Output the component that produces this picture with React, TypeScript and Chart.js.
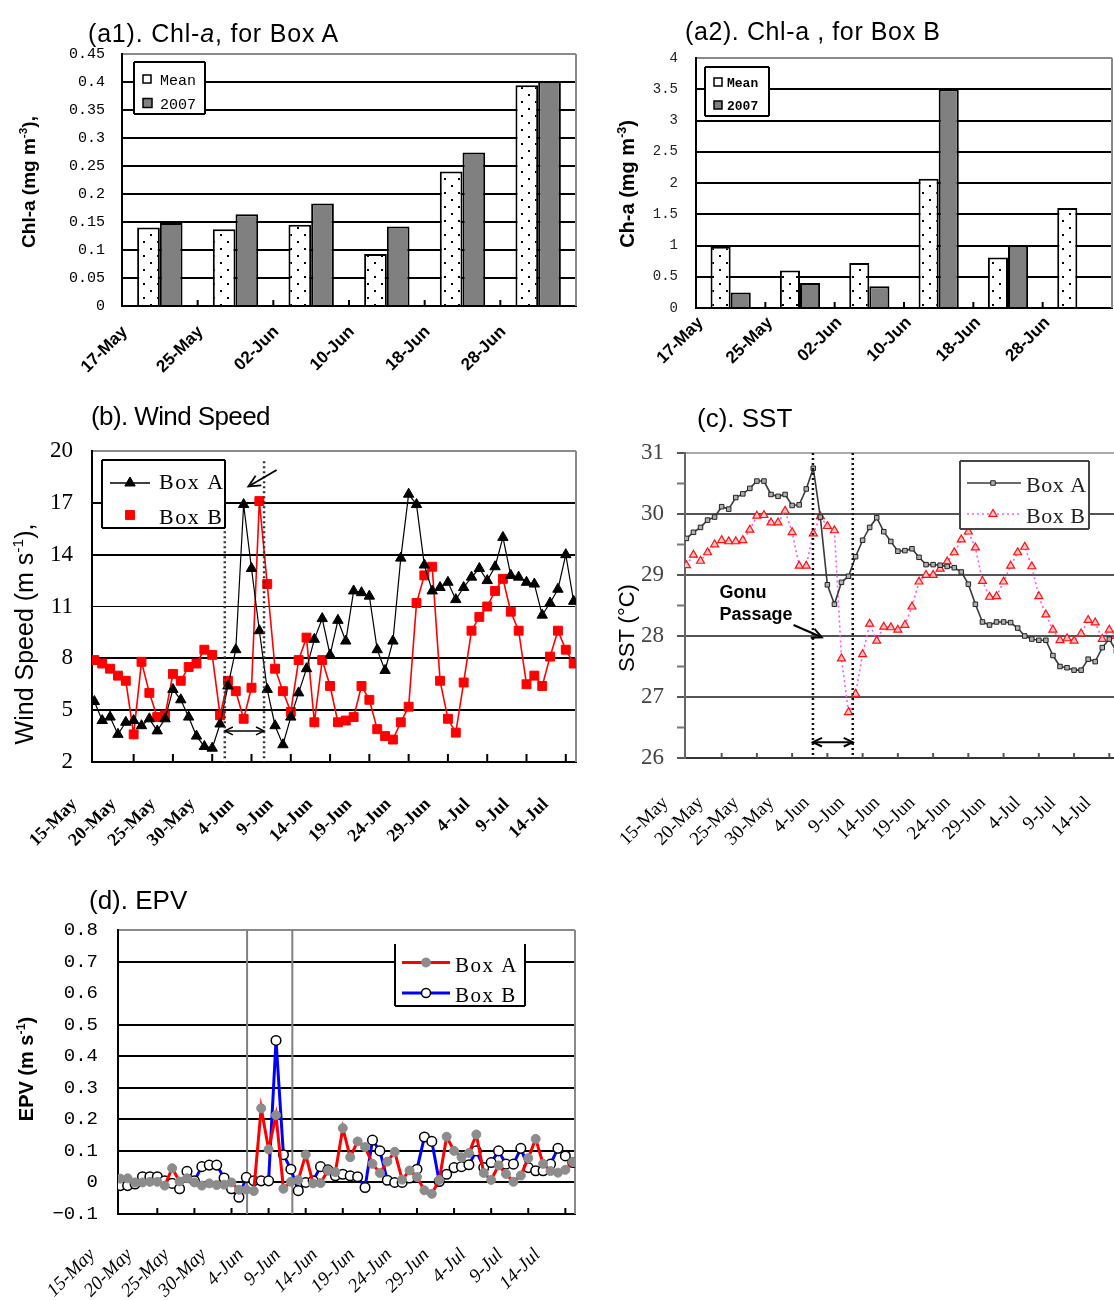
import React, { useEffect, useRef } from 'react';
import { Chart, registerables } from 'chart.js';

Chart.register(...registerables);

const SANS = "'Liberation Sans', Arial, sans-serif";
const SERIF = "'Liberation Serif', 'Times New Roman', serif";
const MONO = "'Liberation Mono', 'DejaVu Sans Mono', monospace";

// ---------------- (a1)/(a2) Chl-a ----------------
const chlCategories = ['17-May', '25-May', '02-Jun', '10-Jun', '18-Jun', '28-Jun'];
const chlBoxAMean = [0.14, 0.137, 0.145, 0.093, 0.24, 0.394];
const chlBoxA2007 = [0.148, 0.164, 0.183, 0.142, 0.274, 0.401];
const chlBoxBMean = [0.98, 0.6, 0.72, 2.07, 0.81, 1.6];
const chlBoxB2007 = [0.25, 0.4, 0.35, 3.5, 1.0, null];

// ---------------- shared date axis (day 0 = 15-May) ----------------
const dateTickDays = [0, 5, 10, 15, 20, 25, 30, 35, 40, 45, 50, 55, 60];
const dateTickLabels = ['15-May', '20-May', '25-May', '30-May', '4-Jun', '9-Jun', '14-Jun', '19-Jun', '24-Jun', '29-Jun', '4-Jul', '9-Jul', '14-Jul'];

// ---------------- (b) Wind speed ----------------
const windBoxA = [5.5, 4.4, 4.6, 3.6, 4.3, 4.4, 4.1, 4.5, 3.8, 4.5, 6.2, 5.6, 4.6, 3.5, 2.9, 2.8, 4.2, 6.4, 8.5, 16.9, 13.2, 9.6, 6.2, 4.1, 3.0, 4.6, 6.0, 7.4, 9.1, 10.3, 8.2, 10.2, 9.0, 11.9, 11.8, 11.6, 8.5, 7.3, 9.0, 13.8, 17.5, 16.9, 13.4, 11.9, 12.1, 12.4, 11.4, 12.1, 12.7, 13.2, 12.5, 13.3, 15.0, 12.8, 12.7, 12.4, 12.3, 10.5, 11.2, 12.0, 14.0, 11.3];
const windBoxB = [7.9, 7.7, 7.4, 7.0, 6.7, 3.6, 7.8, 6.0, 4.6, 4.7, 7.1, 6.7, 7.5, 7.7, 8.5, 8.2, 4.7, 6.7, 6.1, 4.5, 6.3, 17.1, 12.3, 7.4, 6.1, 4.9, 7.9, 9.2, 4.3, 7.9, 6.4, 4.3, 4.4, 4.6, 6.4, 5.6, 3.9, 3.5, 3.3, 4.3, 5.2, 11.2, 12.8, 13.3, 6.7, 4.5, 3.7, 6.6, 9.6, 10.4, 11.0, 11.9, 12.6, 10.7, 9.6, 6.5, 7.0, 6.4, 8.1, 9.6, 8.5, 7.7];
const windGonuDays = [16.6, 21.6];

// ---------------- (c) SST ----------------
const sstBoxA = [29.6, 29.7, 29.78, 29.9, 29.95, 30.12, 30.08, 30.27, 30.33, 30.42, 30.54, 30.54, 30.32, 30.29, 30.32, 30.14, 30.15, 30.41, 30.75, 29.95, 28.84, 28.52, 28.88, 28.98, 29.3, 29.57, 29.78, 29.94, 29.71, 29.55, 29.39, 29.4, 29.43, 29.29, 29.17, 29.17, 29.16, 29.14, 29.12, 29.05, 28.85, 28.52, 28.23, 28.18, 28.23, 28.23, 28.22, 28.13, 28.0, 27.95, 27.93, 27.93, 27.68, 27.5, 27.48, 27.44, 27.44, 27.62, 27.58, 27.81, 27.95, 27.75];
const sstBoxB = [29.16, 29.33, 29.23, 29.37, 29.5, 29.57, 29.55, 29.55, 29.57, 29.74, 29.97, 29.98, 29.86, 29.86, 30.05, 29.7, 29.15, 29.15, 29.68, 29.96, 29.8, 29.73, 27.63, 26.75, 27.05, 27.7, 28.2, 27.92, 28.15, 28.14, 28.1, 28.18, 28.48, 28.89, 29.0, 29.0, 29.1, 29.22, 29.37, 29.58, 29.71, 29.45, 28.9, 28.64, 28.65, 28.89, 29.15, 29.37, 29.46, 29.14, 28.65, 28.35, 28.1, 27.93, 27.96, 27.92, 28.04, 28.26, 28.22, 27.95, 28.1, 28.0];
const sstGonuDays = [17.95, 23.6];
const sstMinorTicks = [26.5, 27.5, 28.5, 29.5, 30.5];

// ---------------- (d) EPV ----------------
const epvBoxA = [0.012, 0.013, 0.0, 0.0, 0.002, 0.002, -0.01, 0.045, 0.003, 0.013, 0.0, -0.01, -0.003, -0.008, -0.007, 0.0, -0.023, -0.023, -0.027, 0.235, 0.105, 0.213, -0.02, 0.002, 0.008, 0.088, -0.003, -0.002, 0.038, 0.033, 0.172, 0.08, 0.13, 0.112, 0.059, 0.03, 0.066, 0.097, 0.009, 0.038, 0.017, -0.025, -0.036, 0.008, 0.145, 0.1, 0.08, 0.093, 0.152, 0.03, 0.008, 0.054, 0.027, 0.002, 0.022, 0.077, 0.138, 0.059, 0.036, 0.031, 0.04, 0.065];
const epvBoxB = [-0.01, -0.01, -0.005, 0.018, 0.018, 0.018, 0.005, -0.003, -0.02, 0.035, 0.005, 0.05, 0.055, 0.055, 0.014, -0.02, -0.047, 0.016, 0.005, 0.005, 0.005, 0.45, 0.088, 0.042, -0.026, 0.0, 0.005, 0.05, 0.04, 0.021, 0.026, 0.021, 0.018, -0.016, 0.134, 0.1, 0.007, 0.0, 0.0, 0.014, 0.042, 0.144, 0.13, 0.003, 0.026, 0.047, 0.05, 0.056, 0.1, 0.047, 0.063, 0.1, 0.058, 0.058, 0.108, 0.047, 0.037, 0.037, 0.058, 0.108, 0.084, 0.063];
const epvGonuDays = [17.1, 23.2];

// ---------------- helpers ----------------
const toPoints = (arr: number[]) => arr.map((v, i) => ({ x: i, y: v }));
const dayLabel = (v: number) => {
  const i = dateTickDays.indexOf(Math.round(v));
  return i >= 0 ? dateTickLabels[i] : '';
};
const near = (a: number, b: number) => Math.abs(a - b) < 1e-6;

function drawMarker(ctx: any, style: string, x: number, y: number, r: number, fill?: string, stroke?: string, lw?: number) {
  ctx.save();
  ctx.setLineDash([]);
  ctx.beginPath();
  if (style === 'triangle') {
    let rad = 0;
    for (let k = 0; k < 3; k++) {
      const px = x + Math.sin(rad) * r;
      const py = y - Math.cos(rad) * r;
      if (k === 0) ctx.moveTo(px, py); else ctx.lineTo(px, py);
      rad += (2 * Math.PI) / 3;
    }
    ctx.closePath();
  } else if (style === 'rect') {
    const s = r * Math.SQRT1_2;
    ctx.rect(x - s, y - s, 2 * s, 2 * s);
  } else {
    ctx.arc(x, y, r, 0, Math.PI * 2);
  }
  if (fill) { ctx.fillStyle = fill; ctx.fill(); }
  if (stroke && lw) { ctx.strokeStyle = stroke; ctx.lineWidth = lw; ctx.stroke(); }
  ctx.restore();
}

function drawArrowHead(ctx: any, x0: number, y0: number, x1: number, y1: number, len: number) {
  const ang = Math.atan2(y1 - y0, x1 - x0);
  ctx.beginPath();
  ctx.moveTo(x1 - len * Math.cos(ang - 0.45), y1 - len * Math.sin(ang - 0.45));
  ctx.lineTo(x1, y1);
  ctx.lineTo(x1 - len * Math.cos(ang + 0.45), y1 - len * Math.sin(ang + 0.45));
  ctx.stroke();
}

// right frame line of plot area
function framePlugin(color: string, width: number) {
  return {
    id: 'frameRight',
    beforeDatasetsDraw(chart: any) {
      const { ctx, chartArea: a } = chart;
      ctx.save();
      ctx.strokeStyle = color;
      ctx.lineWidth = width;
      ctx.beginPath();
      ctx.moveTo(a.right, a.top);
      ctx.lineTo(a.right, a.bottom);
      ctx.stroke();
      ctx.restore();
    },
  };
}

// small tick marks at the axes (positive len points into the plot)
function innerTicksPlugin(items: any[]) {
  return {
    id: 'innerTicks',
    beforeDatasetsDraw(chart: any) {
      const { ctx, chartArea: a, scales } = chart;
      ctx.save();
      for (const it of items) {
        ctx.strokeStyle = it.color;
        ctx.lineWidth = it.width;
        ctx.beginPath();
        for (const v of it.values) {
          if (it.axis === 'x') {
            const px = scales.x.getPixelForValue(v);
            ctx.moveTo(px, a.bottom);
            ctx.lineTo(px, a.bottom - it.len);
          } else {
            const py = scales.y.getPixelForValue(v);
            ctx.moveTo(a.left, py);
            ctx.lineTo(a.left + it.len, py);
          }
        }
        ctx.stroke();
      }
      ctx.restore();
    },
  };
}

function annotationPlugin(items: any[]) {
  const draw = (chart: any, layer: string) => {
    const { ctx, chartArea: a, scales } = chart;
    const X = (v: number) => scales.x.getPixelForValue(v);
    const Y = (v: number) => scales.y.getPixelForValue(v);
    ctx.save();
    for (const it of items) {
      if ((it.layer || 'after') !== layer) continue;
      ctx.setLineDash(it.dash || []);
      ctx.strokeStyle = it.color || '#000';
      ctx.fillStyle = it.color || '#000';
      ctx.lineWidth = it.width || 1;
      if (it.type === 'vline') {
        const px = X(it.x);
        const top = it.yTop != null ? Y(it.yTop) : a.top;
        ctx.beginPath();
        ctx.moveTo(px, top);
        ctx.lineTo(px, a.bottom);
        ctx.stroke();
      } else if (it.type === 'arrow') {
        const x0 = X(it.x0), y0 = Y(it.y0), x1 = X(it.x1), y1 = Y(it.y1);
        ctx.beginPath();
        ctx.moveTo(x0, y0);
        ctx.lineTo(x1, y1);
        ctx.stroke();
        ctx.setLineDash([]);
        drawArrowHead(ctx, x0, y0, x1, y1, it.head || 8);
        if (it.both) drawArrowHead(ctx, x1, y1, x0, y0, it.head || 8);
      } else if (it.type === 'text') {
        ctx.font = it.font;
        ctx.textAlign = 'left';
        ctx.textBaseline = 'alphabetic';
        const x0 = X(it.x), y0 = Y(it.y);
        it.lines.forEach((ln: string, i: number) => ctx.fillText(ln, x0, y0 + i * it.lineGap));
      }
    }
    ctx.restore();
  };
  return {
    id: 'annotations',
    beforeDatasetsDraw(chart: any) { draw(chart, 'before'); },
    afterDatasetsDraw(chart: any) { draw(chart, 'after'); },
  };
}

function boxLegendPlugin(cfg: any) {
  return {
    id: 'boxLegend',
    afterDatasetsDraw(chart: any) {
      const { ctx, chartArea: a } = chart;
      const L = a.left, T = a.top;
      const b = cfg.box;
      const x0 = L + b.x, y0 = T + b.y, x1 = x0 + b.w, y1 = y0 + b.h;
      ctx.save();
      ctx.fillStyle = '#fff';
      ctx.fillRect(x0, y0, b.w, b.h);
      ctx.strokeStyle = b.color;
      ctx.lineWidth = b.width;
      const sides = b.sides || 'tlbr';
      ctx.beginPath();
      if (sides.includes('t')) { ctx.moveTo(x0, y0); ctx.lineTo(x1, y0); }
      if (sides.includes('r')) { ctx.moveTo(x1, y0); ctx.lineTo(x1, y1); }
      if (sides.includes('b')) { ctx.moveTo(x1, y1); ctx.lineTo(x0, y1); }
      if (sides.includes('l')) { ctx.moveTo(x0, y1); ctx.lineTo(x0, y0); }
      ctx.stroke();
      for (const it of cfg.items) {
        const cy = T + it.y;
        if (it.line) {
          ctx.save();
          ctx.strokeStyle = it.line.color;
          ctx.lineWidth = it.line.width;
          ctx.setLineDash(it.line.dash || []);
          ctx.beginPath();
          ctx.moveTo(L + it.line.x0, cy);
          ctx.lineTo(L + it.line.x1, cy);
          ctx.stroke();
          ctx.restore();
        }
        if (it.marker) {
          const m = it.marker;
          drawMarker(ctx, m.style, L + m.x, cy, m.r, m.fill, m.stroke, m.lw);
        }
        if (it.swatch) {
          const s = it.swatch.size;
          ctx.fillStyle = it.swatch.fill;
          ctx.fillRect(L + it.swatch.x, cy - s / 2, s, s);
          ctx.strokeStyle = '#000';
          ctx.lineWidth = 1.5;
          ctx.strokeRect(L + it.swatch.x, cy - s / 2, s, s);
        }
        ctx.font = cfg.font;
        ctx.fillStyle = cfg.color || '#000';
        ctx.textAlign = 'left';
        ctx.textBaseline = 'alphabetic';
        if ('letterSpacing' in ctx) ctx.letterSpacing = cfg.letterSpacing || '0px';
        ctx.fillText(it.text, L + cfg.textX, T + it.baseline);
        if ('letterSpacing' in ctx) ctx.letterSpacing = '0px';
      }
      ctx.restore();
    },
  };
}

function makeDots() {
  const c = document.createElement('canvas');
  c.width = 14;
  c.height = 14;
  const g = c.getContext('2d') as CanvasRenderingContext2D;
  g.fillStyle = '#fff';
  g.fillRect(0, 0, 14, 14);
  g.fillStyle = '#000';
  g.fillRect(3, 3, 2, 2);
  g.fillRect(10, 10, 2, 2);
  return g.createPattern(c, 'repeat');
}

const baseOptions = () => ({
  responsive: false,
  maintainAspectRatio: false,
  animation: false,
  events: [],
  plugins: { legend: { display: false }, tooltip: { enabled: false }, title: { display: false } },
});

const fixX = (h: number) => (s: any) => { s.height = h; s.paddingLeft = 0; s.paddingRight = 0; };
const fixY = (w: number) => (s: any) => { s.width = w; s.paddingTop = 0; s.paddingBottom = 0; };

// ---------------- chart builders ----------------
function buildChl(which: 'A' | 'B') {
  const dots = makeDots();
  const isA = which === 'A';
  const mean = isA ? chlBoxAMean : chlBoxBMean;
  const y07 = isA ? chlBoxA2007 : chlBoxB2007;
  const ymax = isA ? 0.45 : 4;
  const step = isA ? 0.05 : 0.5;
  const catPct = isA ? 0.6 : 0.58;
  return {
    type: 'bar',
    data: {
      labels: chlCategories,
      datasets: [
        { label: 'Mean', data: mean, backgroundColor: dots, borderColor: '#000', borderWidth: 2, categoryPercentage: catPct, barPercentage: 1 },
        { label: '2007', data: y07, backgroundColor: '#808080', borderColor: '#000', borderWidth: 2, categoryPercentage: catPct, barPercentage: 1 },
      ],
    },
    options: {
      ...baseOptions(),
      layout: { padding: isA ? { left: 0, top: 54, right: 14, bottom: 0 } : { left: 0, top: 58, right: 2, bottom: 0 } },
      scales: {
        x: {
          grid: { display: false, drawTicks: false },
          border: { display: true, color: '#000', width: 2 },
          ticks: {
            autoSkip: false, maxRotation: 45, minRotation: 45,
            labelOffset: isA ? -35 : -30, padding: isA ? 16 : 5,
            color: '#000', font: { family: SANS, size: 17, weight: 'bold' },
          },
          afterFit: fixX(isA ? 94 : 92),
        },
        y: {
          min: 0, max: ymax,
          ticks: {
            stepSize: step, padding: isA ? 17 : 18, color: isA ? '#000' : '#222',
            font: { family: MONO, size: isA ? 15 : 14 },
            callback: (v: number) => String(Math.round(v * 100) / 100),
          },
          grid: {
            drawTicks: false, lineWidth: 2,
            color: (c: any) => (c.tick && near(c.tick.value, ymax) ? '#8a8a8a' : '#000'),
          },
          border: { display: true, color: '#000', width: 2 },
          afterFit: fixY(isA ? 122 : 106),
        },
      },
    },
    plugins: [
      framePlugin('#8a8a8a', 2),
      innerTicksPlugin([{ axis: 'x', values: [0.5, 1.5, 2.5, 3.5, 4.5], len: 6, color: '#000', width: 2 }]),
      boxLegendPlugin(isA ? {
        box: { x: 12, y: 8, w: 71, h: 52, color: '#000', width: 2 },
        font: `15px ${MONO}`, textX: 38,
        items: [
          { y: 25, baseline: 31, text: 'Mean', swatch: { x: 21, size: 8, fill: '#fff' } },
          { y: 49, baseline: 55, text: '2007', swatch: { x: 21, size: 9, fill: '#808080' } },
        ],
      } : {
        box: { x: 9, y: 9, w: 64, h: 49, color: '#000', width: 2 },
        font: `bold 13px ${MONO}`, textX: 31,
        items: [
          { y: 24, baseline: 29, text: 'Mean', swatch: { x: 18, size: 8, fill: '#fff' } },
          { y: 47, baseline: 52, text: '2007', swatch: { x: 18, size: 8, fill: '#808080' } },
        ],
      }),
    ],
  };
}

function dateXAxis(min: number, max: number, opts: any) {
  return {
    type: 'linear', min, max,
    afterBuildTicks: (s: any) => { s.ticks = dateTickDays.map((v) => ({ value: v })); },
    grid: { display: false, drawTicks: false },
    border: { display: true, color: opts.borderColor || '#000', width: 2 },
    ticks: {
      autoSkip: false, maxRotation: opts.rotation || 45, minRotation: opts.rotation || 45,
      padding: opts.padding, labelOffset: opts.labelOffset, color: '#000',
      font: opts.font, callback: (v: number) => dayLabel(v),
    },
    afterFit: fixX(opts.height),
  };
}

function buildWind() {
  return {
    type: 'line',
    data: {
      datasets: [
        { label: 'Box A', data: toPoints(windBoxA), borderColor: '#000', borderWidth: 1.2, tension: 0, pointStyle: 'triangle', pointRadius: 6, pointBackgroundColor: '#000', pointBorderColor: '#000', pointBorderWidth: 1 },
        { label: 'Box B', data: toPoints(windBoxB), borderColor: '#ff0000', borderWidth: 1.6, tension: 0, pointStyle: 'rect', pointRadius: 6.3, pointBackgroundColor: '#ff0000', pointBorderColor: '#ff0000', pointBorderWidth: 1 },
      ],
    },
    options: {
      ...baseOptions(),
      layout: { padding: { left: 0, top: 51, right: 14, bottom: 0 } },
      scales: {
        x: dateXAxis(-0.3, 61.3, { padding: 32, labelOffset: -20, height: 108, font: { family: SERIF, size: 18, weight: 'bold' } }),
        y: {
          min: 2, max: 20,
          ticks: { stepSize: 3, padding: 19, color: '#000', font: { family: SERIF, size: 23 } },
          grid: {
            drawTicks: false,
            lineWidth: (c: any) => (c.tick && near(c.tick.value, 11) ? 1 : 2),
            color: (c: any) => (c.tick && near(c.tick.value, 20) ? '#8a8a8a' : '#000'),
          },
          border: { display: true, color: '#000', width: 2 },
          afterFit: fixY(92),
        },
      },
    },
    plugins: [
      framePlugin('#8a8a8a', 2),
      innerTicksPlugin([{ axis: 'x', values: dateTickDays.slice(1), len: 8, color: '#000', width: 2 }]),
      annotationPlugin([
        { type: 'vline', x: windGonuDays[0], yTop: 19.4, color: '#333', width: 2.5, dash: [2, 3] },
        { type: 'vline', x: windGonuDays[1], yTop: 19.4, color: '#333', width: 2.5, dash: [2, 3] },
        { type: 'arrow', x0: windGonuDays[0], y0: 3.8, x1: windGonuDays[1], y1: 3.8, both: true, head: 9, color: '#000', width: 1.5 },
        { type: 'arrow', x0: 23.2, y0: 18.9, x1: 19.6, y1: 17.95, head: 13, color: '#000', width: 1.8 },
      ]),
      boxLegendPlugin({
        box: { x: 10, y: 9, w: 123, h: 68, color: '#000', width: 2 },
        font: `22px ${SERIF}`, textX: 67, letterSpacing: '1.5px',
        items: [
          { y: 32, baseline: 38, text: 'Box A', line: { x0: 18, x1: 58, color: '#000', width: 1.5 }, marker: { style: 'triangle', x: 38, r: 6, fill: '#000', stroke: '#000', lw: 1 } },
          { y: 64, baseline: 73, text: 'Box B', marker: { style: 'rect', x: 38, r: 6.3, fill: '#ff0000', stroke: '#ff0000', lw: 1 } },
        ],
      }),
    ],
  };
}

function buildSST() {
  return {
    type: 'line',
    data: {
      datasets: [
        { label: 'Box A', data: toPoints(sstBoxA), borderColor: '#3a3a3a', borderWidth: 1.6, tension: 0, pointStyle: 'rect', pointRadius: 3.2, pointBackgroundColor: '#b0b0b0', pointBorderColor: '#222', pointBorderWidth: 1 },
        { label: 'Box B', data: toPoints(sstBoxB), borderColor: '#ff55ff', borderWidth: 1.6, borderDash: [2, 3], tension: 0, pointStyle: 'triangle', pointRadius: 4.6, pointBackgroundColor: '#ffc4c4', pointBorderColor: '#ff1010', pointBorderWidth: 1.2 },
      ],
    },
    options: {
      ...baseOptions(),
      layout: { padding: { left: 0, top: 53, right: 8, bottom: 0 } },
      scales: {
        x: dateXAxis(-0.2, 61.8, { padding: 34, labelOffset: -21, height: 112, borderColor: '#333', font: { family: SERIF, size: 19 } }),
        y: {
          min: 26, max: 31,
          ticks: { stepSize: 1, padding: 13, color: '#444', font: { family: SERIF, size: 23 } },
          grid: {
            drawTicks: true, tickLength: 8, tickColor: '#555', tickWidth: 2,
            lineWidth: 2,
            color: (c: any) => (c.tick && near(c.tick.value, 31) ? '#aaaaaa' : '#555'),
          },
          border: { display: true, color: '#666', width: 2 },
          afterFit: fixY(95),
        },
      },
    },
    plugins: [
      innerTicksPlugin([
        { axis: 'x', values: dateTickDays.slice(1), len: 5, color: '#555', width: 2 },
        { axis: 'y', values: sstMinorTicks, len: -8, color: '#777', width: 2 },
      ]),
      annotationPlugin([
        { type: 'vline', x: sstGonuDays[0], color: '#111', width: 2.5, dash: [2, 3] },
        { type: 'vline', x: sstGonuDays[1], color: '#111', width: 2.5, dash: [2, 3] },
        { type: 'arrow', x0: sstGonuDays[0], y0: 26.26, x1: sstGonuDays[1], y1: 26.26, both: true, head: 10, color: '#000', width: 2 },
        { type: 'text', x: 4.7, y: 28.62, lines: ['Gonu', 'Passage'], lineGap: 22, font: `bold 18px ${SANS}`, color: '#000' },
        { type: 'arrow', x0: 15.2, y0: 28.18, x1: 19.2, y1: 27.98, head: 11, color: '#000', width: 2 },
      ]),
      boxLegendPlugin({
        box: { x: 275, y: 8, w: 129, h: 68, color: '#444', width: 2 },
        font: `22px ${SERIF}`, textX: 341, color: '#222', letterSpacing: '0.5px',
        items: [
          { y: 30, baseline: 39, text: 'Box A', line: { x0: 282, x1: 336, color: '#3a3a3a', width: 1.6 }, marker: { style: 'rect', x: 308, r: 3.2, fill: '#b0b0b0', stroke: '#222', lw: 1 } },
          { y: 61, baseline: 70, text: 'Box B', line: { x0: 282, x1: 336, color: '#ff55ff', width: 1.6, dash: [2, 3] }, marker: { style: 'triangle', x: 308, r: 4.6, fill: '#ffc4c4', stroke: '#ff1010', lw: 1.2 } },
        ],
      }),
    ],
  };
}

function buildEPV() {
  return {
    type: 'line',
    data: {
      datasets: [
        { label: 'Box A', data: toPoints(epvBoxA), borderColor: '#ff0000', borderWidth: 3, tension: 0, pointStyle: 'circle', pointRadius: 4.5, pointBackgroundColor: '#8c8c8c', pointBorderColor: '#8c8c8c', pointBorderWidth: 1 },
        { label: 'Box B', data: toPoints(epvBoxB), borderColor: '#0000ff', borderWidth: 3, tension: 0, pointStyle: 'circle', pointRadius: 4.8, pointBackgroundColor: '#fff', pointBorderColor: '#000', pointBorderWidth: 1.5 },
      ],
    },
    options: {
      ...baseOptions(),
      layout: { padding: { left: 0, top: 50, right: 15, bottom: 0 } },
      scales: {
        x: dateXAxis(-0.3, 61.3, { padding: 30, labelOffset: -28, height: 86, font: { family: SERIF, size: 19, style: 'italic' } }),
        y: {
          min: -0.1, max: 0.8,
          ticks: {
            stepSize: 0.1, padding: 20, color: '#000', font: { family: MONO, size: 19 },
            callback: (v: number) => {
              const r = Math.round(v * 10) / 10;
              if (r === 0) return '0';
              return r < 0 ? '\u2212' + Math.abs(r).toFixed(1) : r.toFixed(1);
            },
          },
          grid: {
            drawTicks: false, lineWidth: 2,
            color: (c: any) => {
              if (!c.tick) return '#000';
              if (near(c.tick.value, 0.8)) return '#8a8a8a';
              if (near(c.tick.value, 0.6)) return 'rgba(0,0,0,0)';
              return '#000';
            },
          },
          border: { display: true, color: '#000', width: 2 },
          afterFit: fixY(118),
        },
      },
    },
    plugins: [
      framePlugin('#8a8a8a', 2),
      innerTicksPlugin([{ axis: 'x', values: dateTickDays.slice(1), len: 6, color: '#000', width: 2 }]),
      annotationPlugin([
        { type: 'vline', x: epvGonuDays[0], color: '#808080', width: 2, layer: 'before' },
        { type: 'vline', x: epvGonuDays[1], color: '#808080', width: 2, layer: 'before' },
      ]),
      boxLegendPlugin({
        box: { x: 277, y: 14, w: 130, h: 62, color: '#000', width: 2, sides: 'lrb' },
        font: `21px ${SERIF}`, textX: 337, letterSpacing: '1.5px',
        items: [
          { y: 32.5, baseline: 42, text: 'Box A', line: { x0: 284, x1: 332, color: '#ff0000', width: 3 }, marker: { style: 'circle', x: 308, r: 4.5, fill: '#8c8c8c', stroke: '#8c8c8c', lw: 1 } },
          { y: 63, baseline: 72, text: 'Box B', line: { x0: 284, x1: 332, color: '#0000ff', width: 3 }, marker: { style: 'circle', x: 308, r: 4.5, fill: '#fff', stroke: '#000', lw: 1.5 } },
        ],
      }),
    ],
  };
}

// ---------------- components ----------------
function ChartCanvas({ left, top, width, height, build }: any) {
  const ref = useRef<HTMLCanvasElement | null>(null);
  useEffect(() => {
    if (!ref.current) return;
    const chart = new Chart(ref.current, build() as any);
    return () => chart.destroy();
  }, []);
  return <canvas ref={ref} width={width} height={height} style={{ position: 'absolute', left, top, width, height }} />;
}

function Title({ x, baseline, size, ls, children }: any) {
  return (
    <div style={{ position: 'absolute', left: x, top: baseline - size * 0.846, fontSize: size, lineHeight: 1, letterSpacing: ls || 0, whiteSpace: 'nowrap', fontFamily: SANS }}>
      {children}
    </div>
  );
}

function VTitle({ cx, cy, size, weight, children }: any) {
  return (
    <div style={{ position: 'absolute', left: cx, top: cy, transform: 'translate(-50%, -50%) rotate(-90deg)', fontSize: size, fontWeight: weight || 'normal', whiteSpace: 'nowrap', lineHeight: 1, fontFamily: SANS }}>
      {children}
    </div>
  );
}

const supStyle: any = { fontSize: '0.62em', verticalAlign: 'super', lineHeight: 0 };

export default function App() {
  return (
    <div style={{ position: 'absolute', left: 0, top: 0, width: 1114, height: 1300, overflow: 'hidden', background: '#fff', color: '#000', fontFamily: SANS }}>
      <ChartCanvas left={0} top={0} width={590} height={400} build={() => buildChl('A')} />
      <ChartCanvas left={590} top={0} width={524} height={400} build={() => buildChl('B')} />
      <ChartCanvas left={0} top={400} width={590} height={470} build={buildWind} />
      <ChartCanvas left={590} top={400} width={540} height={470} build={buildSST} />
      <ChartCanvas left={0} top={880} width={590} height={420} build={buildEPV} />

      <Title x={88} baseline={42} size={25} ls="0.8px">(a1). Chl-<i>a</i>, for Box A</Title>
      <Title x={685} baseline={40} size={25} ls="0.6px">(a2). Chl-a , for Box B</Title>
      <Title x={91} baseline={425} size={26} ls="-0.6px">(b). Wind Speed</Title>
      <Title x={697} baseline={427} size={26}>(c). SST</Title>
      <Title x={89} baseline={909} size={26}>(d). EPV</Title>

      <VTitle cx={28} cy={182} size={19} weight="bold">Chl-a (mg m<sup style={supStyle}>-3</sup>),</VTitle>
      <VTitle cx={627} cy={184} size={20} weight="bold">Ch-a (mg m<sup style={supStyle}>-3</sup>)</VTitle>
      <VTitle cx={24} cy={634} size={25}>Wind Speed (m s<sup style={supStyle}>-1</sup>),</VTitle>
      <VTitle cx={627} cy={628} size={22}>SST (°C)</VTitle>
      <VTitle cx={26} cy={1069} size={20} weight="bold">EPV (m s<sup style={supStyle}>-1</sup>)</VTitle>
    </div>
  );
}
